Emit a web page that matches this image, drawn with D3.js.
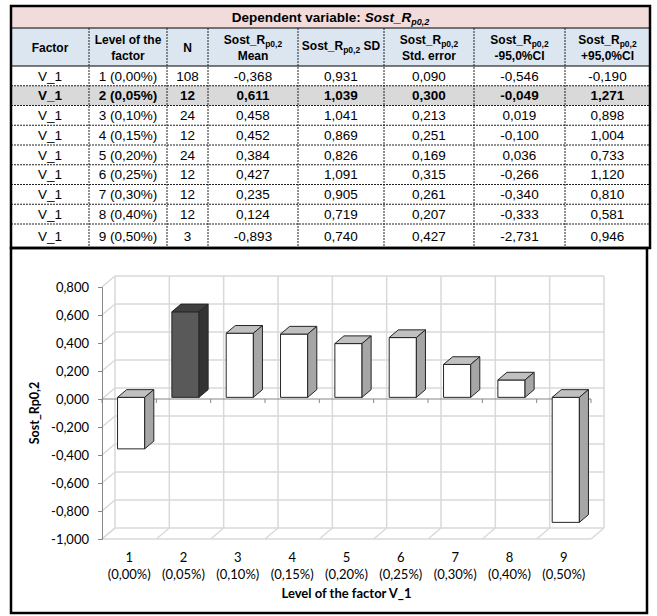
<!DOCTYPE html>
<html><head><meta charset="utf-8">
<script src="https://cdn.jsdelivr.net/npm/d3@7"></script>
<style>body{margin:0;background:#fff} svg{display:block}</style>
</head><body>
<svg id="c" width="657" height="616"></svg>
<script>
// ---------- data ----------
const factors = ["V_1","V_1","V_1","V_1","V_1","V_1","V_1","V_1","V_1"];
const levels = ["1 (0,00%)","2 (0,05%)","3 (0,10%)","4 (0,15%)","5 (0,20%)","6 (0,25%)","7 (0,30%)","8 (0,40%)","9 (0,50%)"];
const nValues = [108,12,24,12,24,12,12,12,3];
const means = [-0.368,0.611,0.458,0.452,0.384,0.427,0.235,0.124,-0.893];
const sds = [0.931,1.039,1.041,0.869,0.826,1.091,0.905,0.719,0.740];
const stdErrors = [0.090,0.300,0.213,0.251,0.169,0.315,0.261,0.207,0.427];
const ciLow = [-0.546,-0.049,0.019,-0.100,0.036,-0.266,-0.340,-0.333,-2.731];
const ciHigh = [-0.190,1.271,0.898,1.004,0.733,1.120,0.810,0.581,0.946];
const categoryNumbers = ["1","2","3","4","5","6","7","8","9"];
const categoryPercents = ["(0,00%)","(0,05%)","(0,10%)","(0,15%)","(0,20%)","(0,25%)","(0,30%)","(0,40%)","(0,50%)"];
const yTicks = [0.8,0.6,0.4,0.2,0.0,-0.2,-0.4,-0.6,-0.8,-1.0];
const highlightIndex = 1;
const yTitle = "Sost_Rp0,2";
const xTitle = "Level of the factor V_1";

const loc = d3.formatLocale({decimal:",",thousands:".",grouping:[3],currency:["",""],minus:"-"});
const f3 = loc.format(".3f");

const svg = d3.select("#c");
const TF = "'Liberation Sans', Arial, sans-serif";
const CF = "Lato, 'Open Sans', sans-serif";

// ---------- table ----------
const colEdges = [11, 89, 167, 208, 298, 384, 474, 565, 650];
const tTop = 6, titleBottom = 28, headBottom = 66, tBottom = 248;
const rowH = 19.75;
const rowTops = d3.range(9).map(i => headBottom + i*rowH);
rowTops.push(tBottom);

const g = svg.append("g");
g.append("rect").attr("x",colEdges[0]).attr("y",tTop).attr("width",colEdges[8]-colEdges[0]).attr("height",titleBottom-tTop).attr("fill","#f2dcdb");
g.append("rect").attr("x",colEdges[0]).attr("y",titleBottom).attr("width",colEdges[8]-colEdges[0]).attr("height",headBottom-titleBottom).attr("fill","#dce6f1");
g.append("rect").attr("x",colEdges[0]).attr("y",rowTops[highlightIndex]).attr("width",colEdges[8]-colEdges[0]).attr("height",rowH).attr("fill","#d9d9d9");

// title
const tt = g.append("text").attr("x",(colEdges[0]+colEdges[8])/2).attr("y",(tTop+titleBottom)/2+4.5)
  .attr("text-anchor","middle").attr("font-family",TF).attr("font-size",13.5).attr("font-weight","bold");
tt.append("tspan").text("Dependent variable: ");
tt.append("tspan").attr("font-style","italic").text("Sost_R");
tt.append("tspan").attr("font-style","italic").attr("font-size",9).attr("dy",3).text("p0,2");

function sostLabel(sel, suffix){
  sel.append("tspan").text("Sost_R");
  sel.append("tspan").attr("font-size",8.5).attr("dy",2.5).text("p0,2");
  if (suffix) sel.append("tspan").attr("dy",-2.5).text(suffix);
}
const hdrMid = (titleBottom+headBottom)/2;
const headers = [
  {lines:["Factor"]},
  {lines:["Level of the","factor"]},
  {lines:["N"]},
  {sost:true, second:"Mean"},
  {sost:true, single:" SD"},
  {sost:true, second:"Std. error"},
  {sost:true, second:"-95,0%CI"},
  {sost:true, second:"+95,0%CI"}
];
headers.forEach((h,i)=>{
  const cx = (colEdges[i]+colEdges[i+1])/2;
  const base = g.append("g").attr("font-family",TF).attr("font-size",12).attr("font-weight","bold").attr("text-anchor","middle");
  if (h.lines){
    if (h.lines.length===1) base.append("text").attr("x",cx).attr("y",hdrMid+4.5).text(h.lines[0]);
    else h.lines.forEach((l,k)=>base.append("text").attr("x",cx).attr("y",hdrMid-3+k*15.5).text(l));
  } else if (h.single){
    sostLabel(base.append("text").attr("x",cx).attr("y",hdrMid+3), h.single);
  } else {
    sostLabel(base.append("text").attr("x",cx).attr("y",hdrMid-3));
    base.append("text").attr("x",cx).attr("y",hdrMid+12.5).text(h.second);
  }
});

// rows
const rows = d3.range(9).map(i => [factors[i], levels[i], String(nValues[i]), f3(means[i]), f3(sds[i]), f3(stdErrors[i]), f3(ciLow[i]), f3(ciHigh[i])]);
rows.forEach((r,i)=>{
  const cy = (rowTops[i]+rowTops[i+1])/2 + 4.8;
  r.forEach((v,j)=>{
    g.append("text").attr("x",(colEdges[j]+colEdges[j+1])/2).attr("y",cy)
      .attr("text-anchor","middle").attr("font-family",TF).attr("font-size",13.5)
      .attr("font-weight", i===highlightIndex ? "bold":"normal").text(v);
  });
});
for (let i=1;i<9;i++){
  g.append("line").attr("x1",colEdges[0]).attr("x2",colEdges[8]).attr("y1",rowTops[i]).attr("y2",rowTops[i])
    .attr("stroke","#222").attr("stroke-width",1).attr("stroke-dasharray","2,1");
}
g.append("line").attr("x1",colEdges[0]).attr("x2",colEdges[8]).attr("y1",titleBottom).attr("y2",titleBottom).attr("stroke","#000");
g.append("line").attr("x1",colEdges[0]).attr("x2",colEdges[8]).attr("y1",headBottom).attr("y2",headBottom).attr("stroke","#000");
for (let j=1;j<8;j++){
  g.append("line").attr("x1",colEdges[j]).attr("x2",colEdges[j]).attr("y1",titleBottom).attr("y2",tBottom)
    .attr("stroke","#222").attr("stroke-width",1).attr("stroke-dasharray","2,1");
}
g.append("rect").attr("x",colEdges[0]).attr("y",tTop).attr("width",colEdges[8]-colEdges[0]).attr("height",tBottom-tTop)
  .attr("fill","none").attr("stroke","#000").attr("stroke-width",2.5);

// ---------- chart ----------
const chartBox = {x0:11, y0:248, x1:647, y1:613};
svg.append("rect").attr("x",chartBox.x0).attr("y",chartBox.y0).attr("width",chartBox.x1-chartBox.x0).attr("height",chartBox.y1-chartBox.y0)
  .attr("fill","none").attr("stroke","#000").attr("stroke-width",2.5);

const x = d3.scaleBand().domain(d3.range(9)).range([102, 591]).paddingInner(0).paddingOuter(0);
const y = d3.scaleLinear().domain([-1, 0.8]).range([539, 287]);
const DX = 13, DY = -11;
const bw = x.bandwidth();
const cg = svg.append("g");
const gridC = "#d9d9d9";
yTicks.forEach(t=>{
  cg.append("line").attr("x1",x.range()[0]+DX).attr("x2",x.range()[1]+DX).attr("y1",y(t)+DY).attr("y2",y(t)+DY).attr("stroke",gridC).attr("stroke-width",1.5);
  cg.append("line").attr("x1",x.range()[0]).attr("x2",x.range()[0]+DX).attr("y1",y(t)).attr("y2",y(t)+DY).attr("stroke",gridC).attr("stroke-width",1.5);
});
d3.range(10).forEach(k=>{
  const bx = x.range()[0] + k*bw;
  cg.append("line").attr("x1",bx+DX).attr("x2",bx+DX).attr("y1",y(0.8)+DY).attr("y2",y(-1)+DY).attr("stroke",gridC).attr("stroke-width",1.5);
  cg.append("line").attr("x1",bx).attr("x2",bx+DX).attr("y1",y(-1)).attr("y2",y(-1)+DY).attr("stroke",gridC).attr("stroke-width",1.5);
});
cg.append("line").attr("x1",x.range()[0]).attr("x2",x.range()[1]).attr("y1",y(-1)).attr("y2",y(-1)).attr("stroke",gridC).attr("stroke-width",1.5);

const yAxis = d3.axisLeft(y).tickValues(yTicks).tickFormat(f3).tickSize(4).tickPadding(9);
const ya = svg.append("g").attr("transform",`translate(${x.range()[0]},0)`).call(yAxis);
ya.select(".domain").attr("stroke","#868686");
ya.selectAll(".tick line").attr("stroke","#868686");
ya.selectAll(".tick text").attr("font-family",CF).attr("font-size",13).attr("fill","#000");

cg.append("line").attr("x1",x.range()[0]).attr("x2",x.range()[1]).attr("y1",y(0)).attr("y2",y(0)).attr("stroke","#868686");
d3.range(10).forEach(k=>{
  const bx = x.range()[0] + k*bw;
  cg.append("line").attr("x1",bx).attr("x2",bx).attr("y1",y(0)).attr("y2",y(0)+4).attr("stroke","#868686");
});

const f0x = 0.15*DX, f0y = 0.15*DY, bdx = 0.7*DX, bdy = 0.7*DY;
const bars = svg.append("g").attr("stroke","#262626").attr("stroke-width",1).attr("stroke-linejoin","round");
means.forEach((v,i)=>{
  const hi = i===highlightIndex;
  const top = y(Math.max(v,0)) + f0y, bot = y(Math.min(v,0)) + f0y;
  const x0 = x(i) + bw*0.25 + f0x, x1 = x0 + bw*0.5;
  bars.append("rect").attr("x",x0).attr("y",top).attr("width",x1-x0).attr("height",bot-top).attr("fill", hi?"#595959":"#ffffff");
  bars.append("polygon").attr("points",[[x0,top],[x1,top],[x1+bdx,top+bdy],[x0+bdx,top+bdy]].map(p=>p.join(",")).join(" "))
    .attr("fill", hi?"#3f3f3f":"#c0c0c0");
  bars.append("polygon").attr("points",[[x1,top],[x1+bdx,top+bdy],[x1+bdx,bot+bdy],[x1,bot]].map(p=>p.join(",")).join(" "))
    .attr("fill", hi?"#333333":"#a6a6a6");
});

const xl = svg.append("g").attr("font-family",CF).attr("font-size",13).attr("text-anchor","middle").attr("fill","#000");
categoryNumbers.forEach((c,i)=>{
  xl.append("text").attr("x",x(i)+bw/2).attr("y",557).attr("dy","0.35em").text(c);
  xl.append("text").attr("x",x(i)+bw/2).attr("y",574).attr("dy","0.35em").text(categoryPercents[i]);
});
svg.append("text").attr("x",(x.range()[0]+x.range()[1])/2).attr("y",593).attr("dy","0.35em")
  .attr("text-anchor","middle").attr("font-family",CF).attr("font-size",13).attr("font-weight","bold").text(xTitle);
svg.append("text").attr("transform",`translate(35,${(y(0.8)+y(-1))/2}) rotate(-90)`).attr("dy","0.35em")
  .attr("text-anchor","middle").attr("font-family",CF).attr("font-size",12.5).attr("font-weight","bold").text(yTitle);
</script>
</body></html>
